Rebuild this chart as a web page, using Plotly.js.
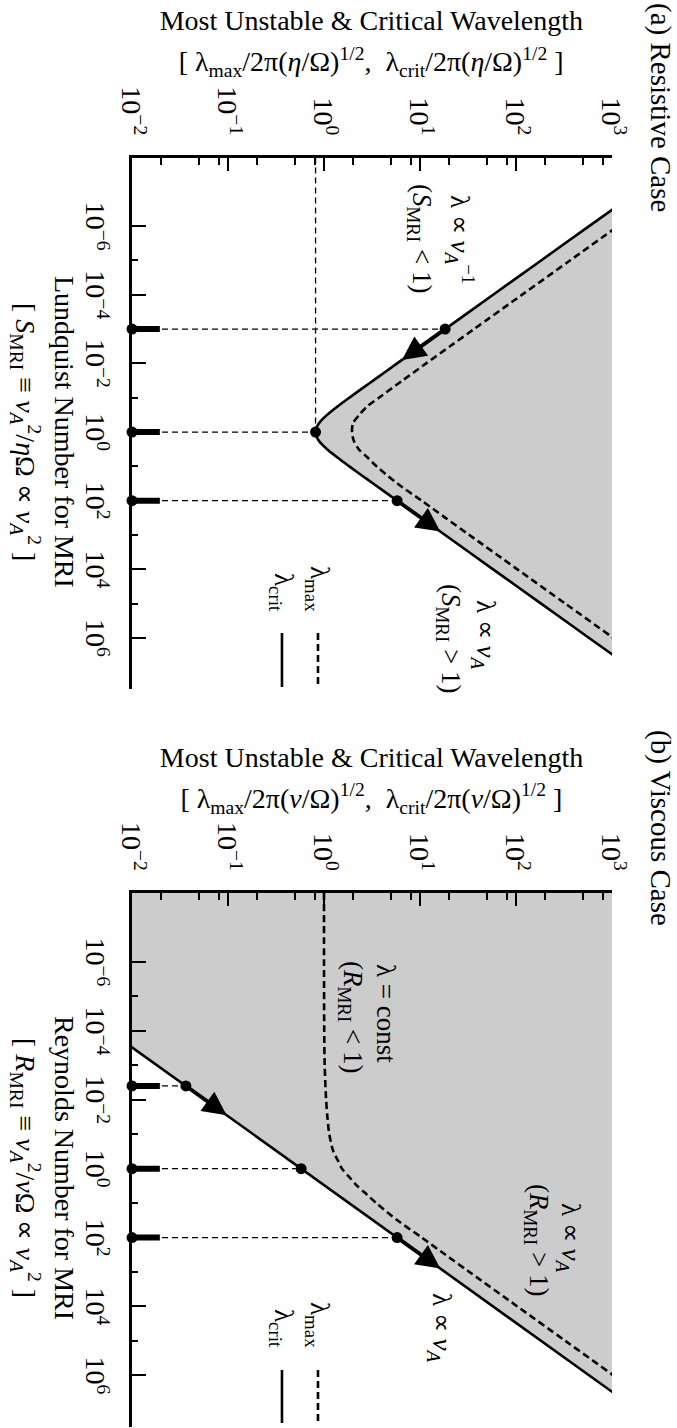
<!DOCTYPE html>
<html><head><meta charset="utf-8">
<script src="https://cdn.plot.ly/plotly-3.0.1.min.js"></script>
<style>
html,body{margin:0;padding:0;width:677px;height:1428px;overflow:hidden;background:#fff;}
#wrap{position:absolute;left:0;top:0;width:1428px;height:677px;transform-origin:0 0;transform:translate(677px,0) rotate(90deg);}
</style></head><body><div id="wrap"></div>
<script>
// ---------- data ----------
// Panel (a): resistive case, x = Lundquist number S, y = wavelength
const S_crit_a = [1e-8,1e-7,1e-6,1e-5,1e-4,1e-3,3.162e-3,1e-2,3.162e-2,5.623e-2,0.1,0.1778,0.3162,0.4217,0.5623,0.7499,1,1.334,1.778,2.371,3.162,5.623,10,17.78,31.62,100,316.2,1e3,1e4,1e5,1e6,1e7,3.162e7];
const lam_crit_a = [5774,1826,577.4,182.6,57.74,18.26,10.27,5.774,3.248,2.4385,1.835,1.391,1.077,0.9649,0.8833,0.8334,0.8165,0.8334,0.8833,0.9649,1.077,1.391,1.835,2.4385,3.248,5.774,10.27,18.26,57.74,182.6,577.4,1826,3247];
const S_max_a = [1e-8,1e-7,1e-6,1e-5,1e-4,1e-3,3.162e-3,1e-2,3.162e-2,0.1,0.1778,0.3162,0.5623,1,1.778,3.162,5.623,10,31.62,100,316.2,1e3,1e4,1e5,1e6,1e7,3.162e7];
const lam_max_a = [11547,3651,1155,365.1,115.5,36.52,20.56,11.59,6.546,3.733,2.825,2.328,2.0,1.959,2.042,2.30,2.858,3.532,5.808,10.42,18.43,32.7,103.3,326.6,1033,3266,5808];
const S_dots_a = [1e-3, 1, 100];
const lam_dots_a = [18.26, 0.8165, 5.774];
const lam_min_crit_a = 0.8165;
const arrowTail_a = [[1e-3, 18.26], [100, 5.774]];
const arrowHead_a = [[7.94e-3, 6.48], [794.3, 16.27]];

// Panel (b): viscous case, x = Reynolds number R
const R_crit_b = [1e-8, 3.162e7];
const lam_crit_b = [5.774e-5, 3247];
const R_max_b = [1e-8,1e-6,1e-4,1e-3,1e-2,3.162e-2,0.1,0.3162,0.5623,1,1.778,3.162,5.623,10,31.62,100,316.2,1e3,1e4,1e5,1e6,1e7,3.162e7];
const lam_max_b = [1.0,1.0,1.005,1.016,1.052,1.084,1.135,1.25,1.387,1.538,1.84,2.213,2.79,3.508,5.808,10.42,18.43,32.7,103.3,326.6,1033,3266,5808];
const R_dots_b = [3.98e-3, 1, 100];
const lam_dots_b = [0.0364, 0.5774, 5.774];
const arrowTail_b = [[3.98e-3, 0.0364], [100, 5.774]];
const arrowHead_b = [[2.818e-2, 0.0969], [794.3, 16.27]];

// axes
const xRangeExp = [-8, 7.5];
const yRangeExp = [-2, 3];
const lamTop = 1e3, lamBottom = 1e-2, boldTickTop = 0.0195;
const lamTickVals = [0.01, 0.1, 1, 10, 100, 1000];
const lamTickText = ['10<sup>−2</sup>','10<sup>−1</sup>','10<sup>0</sup>','10<sup>1</sup>','10<sup>2</sup>','10<sup>3</sup>'];
const lamMinorVals = [0.02,0.05,0.08,0.2,0.5,0.8,2,5,8,20,50,80,200,500,800];
const sTickVals = [1e-6,1e-4,1e-2,1,1e2,1e4,1e6];
const sTickText = ['10<sup>−6</sup>','10<sup>−4</sup>','10<sup>−2</sup>','10<sup>0</sup>','10<sup>2</sup>','10<sup>4</sup>','10<sup>6</sup>'];
const sMinorVals = [1e-5,1e-3,1e-1,10,1e3,1e5];

// ---------- build ----------
const FONT = 'Liberation Serif, Times New Roman, serif';
const GRAY = '#cccccc';

function panelTraces(xs, crit, xsMax, lmax, dotsX, dotsY, hGuide, xa, ya) {
  const tr = [];
  // shaded unstable region (lambda > lambda_crit)
  tr.push({x: xs.concat(xs.slice().reverse()), y: crit.concat(xs.map(() => lamTop)),
    fill: 'toself', fillcolor: GRAY, mode: 'lines', line: {width: 0, color: GRAY},
    xaxis: xa, yaxis: ya, hoverinfo: 'skip', showlegend: false});
  // thin dashed guide lines
  const gx = [], gy = [];
  dotsX.forEach((v, i) => { gx.push(v, v, null); gy.push(lamBottom, dotsY[i], null); });
  if (hGuide) { gx.push(Math.pow(10, xRangeExp[0]), hGuide[0], null); gy.push(hGuide[1], hGuide[1], null); }
  tr.push({x: gx, y: gy, mode: 'lines', line: {color: '#000', width: 1.3, dash: '6px,4px'},
    xaxis: xa, yaxis: ya, hoverinfo: 'skip', showlegend: false});
  // lambda_max dashed
  tr.push({x: xsMax, y: lmax, mode: 'lines', line: {color: '#000', width: 2.6, dash: '7px,4px', shape: 'spline', smoothing: 0.8},
    xaxis: xa, yaxis: ya, hoverinfo: 'skip', showlegend: false});
  // lambda_crit solid
  tr.push({x: xs, y: crit, mode: 'lines', line: {color: '#000', width: 2.6, shape: xs.length > 2 ? 'spline' : 'linear', smoothing: 0.8},
    xaxis: xa, yaxis: ya, hoverinfo: 'skip', showlegend: false});
  // bold ticks on the axis
  const bx = [], by = [];
  dotsX.forEach(v => { bx.push(v, v, null); by.push(lamBottom, boldTickTop, null); });
  tr.push({x: bx, y: by, mode: 'lines', line: {color: '#000', width: 6},
    xaxis: xa, yaxis: ya, hoverinfo: 'skip', showlegend: false});
  // dots
  tr.push({x: dotsX.concat(dotsX), y: dotsY.concat(dotsX.map(() => lamBottom)), mode: 'markers',
    marker: {color: '#000', size: 11}, cliponaxis: false,
    xaxis: xa, yaxis: ya, hoverinfo: 'skip', showlegend: false});
  return tr;
}

const traces = []
  .concat(panelTraces(S_crit_a, lam_crit_a, S_max_a, lam_max_a, S_dots_a, lam_dots_a, [1, lam_min_crit_a], 'x', 'y'))
  .concat(panelTraces(R_crit_b, lam_crit_b, R_max_b, lam_max_b, R_dots_b, lam_dots_b, null, 'x2', 'y2'));

function xAxis(domain, anchor) {
  return {type: 'log', range: xRangeExp, domain: domain, anchor: anchor,
    showline: true, linecolor: '#000', linewidth: 2.7, mirror: false, showgrid: false, zeroline: false,
    ticks: 'inside', ticklen: 14, tickwidth: 2, tickcolor: '#000',
    tickmode: 'array', tickvals: sTickVals, ticktext: sTickText,
    tickfont: {family: FONT, size: 28, color: '#000'}, ticklabelstandoff: 10,
    minor: {tickmode: 'array', tickvals: sMinorVals, ticks: 'inside', ticklen: 6, tickwidth: 2, tickcolor: '#000', showgrid: false},
    fixedrange: true};
}
function yAxis(anchor) {
  return {type: 'log', range: yRangeExp, domain: [0.195, 0.904], anchor: anchor,
    showline: true, linecolor: '#000', linewidth: 2.7, mirror: false, showgrid: false, zeroline: false,
    ticks: 'inside', ticklen: 13, tickwidth: 2, tickcolor: '#000',
    tickmode: 'array', tickvals: lamTickVals, ticktext: lamTickText,
    tickfont: {family: FONT, size: 28, color: '#000'}, ticklabelstandoff: 14,
    minor: {tickmode: 'array', tickvals: lamMinorVals, ticks: 'inside', ticklen: 7, tickwidth: 2, tickcolor: '#000', showgrid: false},
    fixedrange: true};
}

function txt(text, x, y, opts) {
  return Object.assign({text: text, x: x, y: y, xref: 'paper', yref: 'paper', showarrow: false,
    xanchor: 'center', yanchor: 'middle', font: {family: FONT, size: 27, color: '#000'}}, opts || {});
}
function arrow(tail, head, xa, ya) {
  return {xref: xa, yref: ya, axref: xa, ayref: ya,
    x: Math.log10(head[0]), y: Math.log10(head[1]), ax: Math.log10(tail[0]), ay: Math.log10(tail[1]),
    text: '', showarrow: true, arrowhead: 2, arrowsize: 1.25, arrowwidth: 3.8, arrowcolor: '#000', standoff: 0, startstandoff: 0};
}

const annotations = [
  // panel titles
  txt('(a) Resistive Case', 0.001, 0.975, {xanchor: 'left', font: {family: FONT, size: 29, color: '#000'}}),
  txt('(b) Viscous Case', 0.5095, 0.975, {xanchor: 'left', font: {family: FONT, size: 29, color: '#000'}}),
  // wavelength axis titles
  txt('Most Unstable &amp; Critical Wavelength', 0.014, 0.549, {textangle: -90, font: {family: FONT, size: 28, color: '#000'}}),
  txt('[ λ<sub>max</sub>/2π(<i>η</i>/Ω)<sup>1/2</sup>,&nbsp; λ<sub>crit</sub>/2π(<i>η</i>/Ω)<sup>1/2</sup> ]', 0.0434, 0.549, {textangle: -90, font: {family: FONT, size: 28, color: '#000'}}),
  txt('Most Unstable &amp; Critical Wavelength', 0.530, 0.549, {textangle: -90, font: {family: FONT, size: 28, color: '#000'}}),
  txt('[ λ<sub>max</sub>/2π(<i>ν</i>/Ω)<sup>1/2</sup>,&nbsp; λ<sub>crit</sub>/2π(<i>ν</i>/Ω)<sup>1/2</sup> ]', 0.559, 0.549, {textangle: -90, font: {family: FONT, size: 28, color: '#000'}}),
  // S / R axis titles
  txt('Lundquist Number for MRI', 0.3025, 0.096, {font: {family: FONT, size: 28, color: '#000'}}),
  txt('[ <i>S</i><sub>MRI</sub> ≡ <i>v</i><sub><i>A</i></sub><sup>2</sup>/<i>η</i>Ω ∝ <i>v</i><sub><i>A</i></sub><sup>2</sup> ]', 0.3025, 0.038, {font: {family: FONT, size: 28, color: '#000'}}),
  txt('Reynolds Number for MRI', 0.818, 0.096, {font: {family: FONT, size: 28, color: '#000'}}),
  txt('[ <i>R</i><sub>MRI</sub> ≡ <i>v</i><sub><i>A</i></sub><sup>2</sup>/<i>ν</i>Ω ∝ <i>v</i><sub><i>A</i></sub><sup>2</sup> ]', 0.818, 0.038, {font: {family: FONT, size: 28, color: '#000'}}),
  // panel (a) labels
  txt('λ ∝ <i>v</i><sub><i>A</i></sub><sup>−1</sup>', 0.168, 0.6795),
  txt('(<i>S</i><sub>MRI</sub> &lt; 1)', 0.1667, 0.620),
  txt('λ ∝ <i>v</i><sub><i>A</i></sub>', 0.4447, 0.715),
  txt('(<i>S</i><sub>MRI</sub> &gt; 1)', 0.4468, 0.663),
  txt('λ<sub>max</sub>', 0.430, 0.4697, {xanchor: 'right'}),
  txt('λ<sub>crit</sub>', 0.430, 0.4165, {xanchor: 'right'}),
  // panel (b) labels
  txt('λ = const', 0.7094, 0.570),
  txt('(<i>R</i><sub>MRI</sub> &lt; 1)', 0.7122, 0.5185),
  txt('λ ∝ <i>v</i><sub><i>A</i></sub>', 0.867, 0.8405),
  txt('(<i>R</i><sub>MRI</sub> &gt; 1)', 0.8683, 0.793),
  txt('λ ∝ <i>v</i><sub><i>A</i></sub>', 0.930, 0.650),
  txt('λ<sub>max</sub>', 0.9454, 0.4697, {xanchor: 'right'}),
  txt('λ<sub>crit</sub>', 0.9454, 0.4165, {xanchor: 'right'}),
  // arrows
  arrow(arrowTail_a[0], arrowHead_a[0], 'x', 'y'),
  arrow(arrowTail_a[1], arrowHead_a[1], 'x', 'y'),
  arrow(arrowTail_b[0], arrowHead_b[0], 'x2', 'y2'),
  arrow(arrowTail_b[1], arrowHead_b[1], 'x2', 'y2')
];

function legLine(x0, x1, y, dash) {
  return {type: 'line', xref: 'paper', yref: 'paper', x0: x0, x1: x1, y0: y, y1: y,
    line: {color: '#000', width: 2.6, dash: dash}};
}
const shapes = [
  legLine(0.4433, 0.4811, 0.4697, '7px,4px'),
  legLine(0.4433, 0.4811, 0.4165, 'solid'),
  legLine(0.9594, 0.9965, 0.4697, '7px,4px'),
  legLine(0.9594, 0.9965, 0.4165, 'solid')
];

const layout = {
  width: 1428, height: 677,
  margin: {l: 0, r: 0, t: 0, b: 0, pad: 0},
  paper_bgcolor: '#fff', plot_bgcolor: 'rgba(0,0,0,0)',
  showlegend: false,
  font: {family: FONT, size: 27, color: '#000'},
  xaxis: xAxis([0.1103, 0.4828], 'y'),
  yaxis: yAxis('x'),
  xaxis2: xAxis([0.6254, 0.9993], 'y2'),
  yaxis2: yAxis('x2'),
  annotations: annotations,
  shapes: shapes
};

Plotly.newPlot('wrap', traces, layout, {displayModeBar: false, staticPlot: true});
</script></body></html>
